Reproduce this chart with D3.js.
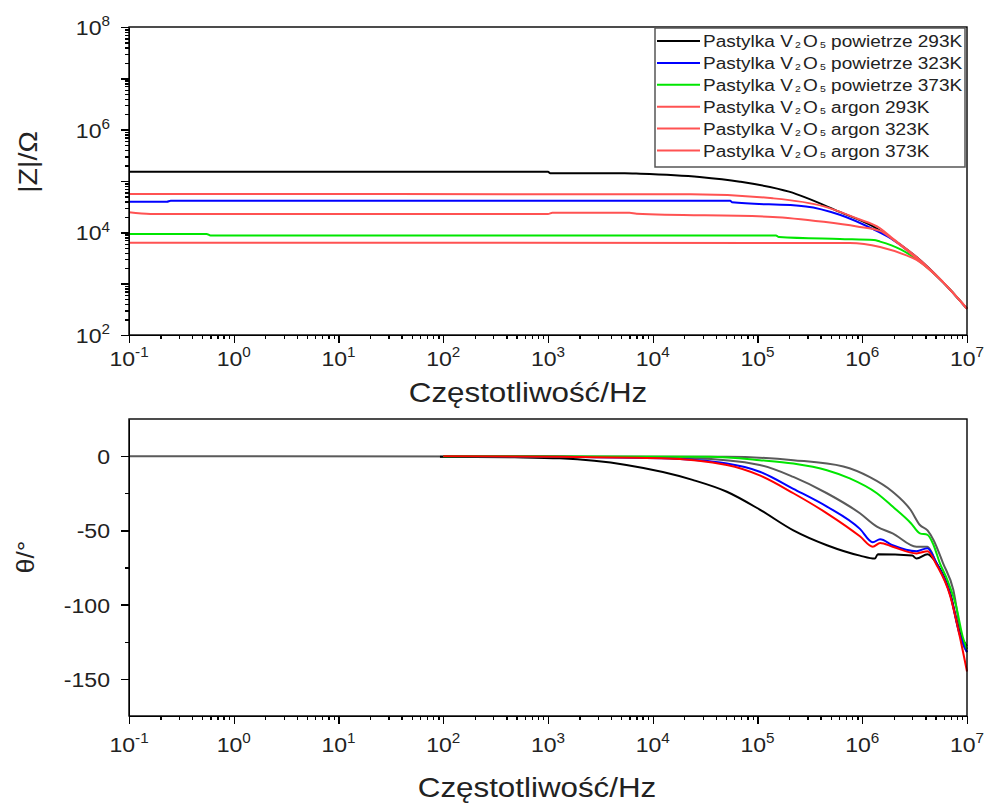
<!DOCTYPE html>
<html>
<head>
<meta charset="utf-8">
<script src="https://cdn.jsdelivr.net/npm/d3@7"></script>
<style>
  body { margin: 0; background: #fff; }
  svg { display: block; }
  .axis path, .axis line { stroke: #000; stroke-width: 1.4px; shape-rendering: crispEdges; }
</style>
</head>
<body>
<svg id="chart" width="987" height="803"></svg>
<script>
// ---- data: [frequency Hz, value] ----
var legendLabels = ['powietrze 293K', 'powietrze 323K', 'powietrze 373K', 'argon 293K', 'argon 323K', 'argon 373K'];
var legendColors = ['#000000', '#0000ff', '#00e600', '#ff5252', '#ff5252', '#ff5252'];
var thetaColors  = ['#000000', '#0000ff', '#00e600', '#ff0000', '#5a5a5a', '#5a5a5a'];

var decadeTicks = [1e-1, 1e0, 1e1, 1e2, 1e3, 1e4, 1e5, 1e6, 1e7];
var zTickLabels = [1e2, 1e4, 1e6, 1e8];
var thetaTicks = [-150, -100, -50, 0];
var thetaMinor = [-125, -75, -25];

// |Z| (ohm)
var zPow293 = [[0.1,1.51e5],[1e3,1.51e5],[1.05e3,1.42e5],[5.4e3,1.42e5],[7.6e3,1.39e5],[2.8e4,1.2e5],[6.8e4,9.7e4],[2.0e5,6.2e4],[6.1e5,2.5e4],[1.27e6,1.3e4],[2.0e6,7.1e3],[3.3e6,3.3e3],[5.9e6,1.07e3],[1e7,325]];
var zPow323 = [[0.1,3.95e4],[0.23,3.95e4],[0.25,4.13e4],[5.5e4,4.13e4],[5.7e4,3.85e4],[2.9e5,3.2e4],[6.1e5,2.2e4],[1.27e6,1.15e4],[2.0e6,7.0e3],[3.3e6,3.2e3],[5.9e6,1.07e3],[1e7,325]];
var zPow373 = [[0.1,9.3e3],[0.55,9.3e3],[0.6,8.7e3],[1.5e5,8.7e3],[1.6e5,8.1e3],[6.1e5,7.4e3],[1.29e6,7.1e3],[1.48e6,6.6e3],[2.35e6,4.6e3],[3.3e6,3.0e3],[5.9e6,1.07e3],[1e7,325]];
var zAr293 = [[0.1,5.6e4],[2.3e4,5.5e4],[1.4e5,4.6e4],[4.3e5,3.2e4],[8.9e5,1.86e4],[1.48e6,1.2e4],[2.0e6,7.3e3],[3.3e6,3.3e3],[5.9e6,1.07e3],[1e7,325]];
var zAr323 = [[0.1,2.45e4],[0.16,2.28e4],[1e3,2.28e4],[1.1e3,2.4e4],[6e3,2.4e4],[7e3,2.3e4],[1.4e5,2.0e4],[4.3e5,1.6e4],[8.9e5,1.3e4],[1.48e6,1.07e4],[2.0e6,7.0e3],[3.3e6,3.1e3],[5.9e6,1.07e3],[1e7,325]];
var zAr373 = [[0.1,6.3e3],[7.6e5,6.2e3],[1.48e6,5.2e3],[2.6e6,3.6e3],[3.3e6,2.9e3],[5.9e6,1.07e3],[1e7,325]];

// theta (deg)
var thPow293 = [[93,-0.4],[480,-0.8],[1.3e3,-1.5],[5.6e3,-6],[2.4e4,-16],[5.1e4,-24],[1.05e5,-36],[2.2e5,-50],[4.6e5,-60],[9.5e5,-67],[1.32e6,-69],[1.41e6,-66],[3.0e6,-67],[3.3e6,-69],[4.2e6,-66],[5.1e6,-72],[6.9e6,-92],[8.5e6,-119],[1e7,-128]];
var thPow323 = [[100,0],[1.3e3,-0.5],[1.2e4,-1.5],[5.1e4,-5],[1.05e5,-10.5],[2.2e5,-22],[4.6e5,-34],[9.5e5,-49],[1.26e6,-58],[1.48e6,-56],[1.95e6,-60],[3.3e6,-64],[4.2e6,-62],[5.1e6,-72],[6.9e6,-93],[8.5e6,-120],[1e7,-132]];
var thPow373 = [[100,0],[3.5e4,-0.5],[1.05e5,-2.7],[2.2e5,-5],[4.6e5,-9.5],[7.6e5,-15],[1.38e6,-25],[1.95e6,-34],[2.9e6,-45],[3.55e6,-52],[4.2e6,-53],[4.8e6,-60],[5.5e6,-72],[6.5e6,-83.5],[7.9e6,-101.5],[9.1e6,-121.6],[1e7,-130]];
var thAr293 = [[100,0],[1.3e3,-0.5],[1.2e4,-1.5],[5.1e4,-6],[1.05e5,-13],[2.2e5,-25],[4.6e5,-38.5],[9.5e5,-54],[1.26e6,-61],[1.48e6,-58.5],[1.95e6,-61],[3.3e6,-65.5],[4.2e6,-64],[5.1e6,-73],[6.9e6,-94],[8.5e6,-121],[1e7,-145]];
var thAr323 = [[100,0],[1e3,-0.3],[2.4e4,-1.5],[1.05e5,-6],[2.2e5,-14],[4.6e5,-25],[9.5e5,-38.5],[1.38e6,-47.5],[1.95e6,-52],[3.3e6,-61],[4.2e6,-61],[5.1e6,-72],[6.9e6,-93],[8.5e6,-118],[1e7,-130]];
var thAr373 = [[0.1,0],[5.1e4,-0.5],[2.2e5,-2.7],[6.6e5,-7],[1.17e6,-14],[1.95e6,-24],[2.9e6,-36.3],[3.55e6,-46.4],[4.2e6,-50],[4.8e6,-56.6],[5.9e6,-72],[7.4e6,-90],[9.1e6,-126],[1e7,-132]];

var zSeries = [zPow293, zPow323, zPow373, zAr293, zAr323, zAr373];
var thSeries = [thPow293, thPow323, thPow373, thAr293, thAr323, thAr373];

var FONT = 'Liberation Sans, Arial, sans-serif';
var SX = 1.1; // the original text is a bit wider than Arial

var svg = d3.select('#chart');
var margin = {l: 129, r: 20};
var plotW = 987 - margin.l - margin.r;

function minorTicks(lo, hi) {
    var out = [];
    for (var e = lo; e < hi; e++) {
        for (var k = 2; k <= 9; k++) out.push(k * Math.pow(10, e));
    }
    return out;
}

// text "10^n" with a raised exponent
function powText(g, x, y, val, size, anchor) {
    var t = g.append('text')
        .attr('transform', 'translate(' + x + ',' + y + ') scale(' + SX + ',1)')
        .attr('text-anchor', anchor)
        .style('font-family', FONT)
        .style('font-size', size + 'px')
        .attr('fill', '#222');
    t.append('tspan').text('10');
    t.append('tspan')
        .attr('dy', -size * 0.42)
        .style('font-size', (size * 0.66) + 'px')
        .text(Math.round(Math.log10(val)));
    return t;
}

function plainText(g, x, y, str, size, anchor, rot) {
    return g.append('text')
        .attr('transform', 'translate(' + x + ',' + y + ')' + (rot ? ' rotate(' + rot + ')' : '') + ' scale(' + SX + ',1)')
        .attr('text-anchor', anchor)
        .style('font-family', FONT)
        .style('font-size', size + 'px')
        .attr('fill', '#222')
        .text(str);
}

var x = d3.scaleLog().domain([1e-1, 1e7]).range([0, plotW]);

// ================= top plot: |Z| =================
var topH = 308;
var topG = svg.append('g').attr('transform', 'translate(' + margin.l + ',27)');
var yZ = d3.scaleLog().domain([1e2, 1e8]).range([topH, 0]);

var zLine = d3.line()
    .x(function(d){ return x(d[0]); })
    .y(function(d){ return yZ(d[1]); })
    .curve(d3.curveMonotoneX);

topG.selectAll('.zline')
    .data(zSeries)
    .enter()
    .append('path')
    .attr('class', 'zline')
    .attr('d', zLine)
    .attr('fill', 'none')
    .attr('stroke', function(d, i){ return legendColors[i]; })
    .attr('stroke-width', 2);

topG.append('rect')
    .attr('width', plotW).attr('height', topH)
    .attr('fill', 'none').attr('stroke', '#000').attr('stroke-width', 1.4);

topG.append('g').attr('class', 'axis').attr('transform', 'translate(0,' + topH + ')')
    .call(d3.axisBottom(x).tickValues(decadeTicks).tickSize(8).tickSizeOuter(0).tickFormat(''));
topG.append('g').attr('class', 'axis').attr('transform', 'translate(0,' + topH + ')')
    .call(d3.axisBottom(x).tickValues(minorTicks(-1, 7)).tickSize(4).tickSizeOuter(0).tickFormat(''));
topG.append('g').attr('class', 'axis')
    .call(d3.axisLeft(yZ).tickValues([1e2,1e3,1e4,1e5,1e6,1e7,1e8]).tickSize(8).tickSizeOuter(0).tickFormat(''));
topG.append('g').attr('class', 'axis')
    .call(d3.axisLeft(yZ).tickValues(minorTicks(2, 8)).tickSize(4).tickSizeOuter(0).tickFormat(''));

decadeTicks.forEach(function(v){ powText(topG, x(v), topH + 31, v, 21, 'middle'); });
zTickLabels.forEach(function(v){ powText(topG, -19, yZ(v) + 8, v, 21, 'end'); });

plainText(svg, 528, 402, 'Częstotliwość/Hz', 28.5, 'middle');
plainText(svg, 37, 162, '|Z|/Ω', 26, 'middle', -90);

// legend
var legG = svg.append('g').attr('transform', 'translate(655,28)');
legG.append('rect').attr('width', 310).attr('height', 139)
    .attr('fill', '#fff').attr('stroke', '#555').attr('stroke-width', 1.5);
legendLabels.forEach(function(lab, i){
    var cy = 13 + i * 21.9;
    legG.append('line')
        .attr('x1', 2).attr('x2', 45).attr('y1', cy).attr('y2', cy)
        .attr('stroke', legendColors[i]).attr('stroke-width', 2);
    var t = legG.append('text')
        .attr('transform', 'translate(48,' + (cy + 6) + ') scale(' + SX + ',1)')
        .style('font-family', FONT).style('font-size', '17.3px').attr('fill', '#222');
    t.append('tspan').text('Pastylka V');
    t.append('tspan').attr('dx', 2).attr('dy', 1).style('font-size', '9.5px').text('2');
    t.append('tspan').attr('dx', 2).attr('dy', -1).text('O');
    t.append('tspan').attr('dx', 2).attr('dy', 1).style('font-size', '9.5px').text('5');
    t.append('tspan').attr('dy', -1).text(' ' + lab);
});

// ================= bottom plot: theta =================
var botH = 297;
var botG = svg.append('g').attr('transform', 'translate(' + margin.l + ',419)');
var yT = d3.scaleLinear().domain([-175, 25]).range([botH, 0]);

var tLine = d3.line()
    .x(function(d){ return x(d[0]); })
    .y(function(d){ return yT(d[1]); })
    .curve(d3.curveMonotoneX);

var drawOrder = [5, 4, 0, 1, 2, 3];
botG.selectAll('.tline')
    .data(drawOrder)
    .enter()
    .append('path')
    .attr('class', 'tline')
    .attr('d', function(i){ return tLine(thSeries[i]); })
    .attr('fill', 'none')
    .attr('stroke', function(i){ return thetaColors[i]; })
    .attr('stroke-width', 2);

botG.append('rect')
    .attr('width', plotW).attr('height', botH)
    .attr('fill', 'none').attr('stroke', '#000').attr('stroke-width', 1.4);

botG.append('g').attr('class', 'axis').attr('transform', 'translate(0,' + botH + ')')
    .call(d3.axisBottom(x).tickValues(decadeTicks).tickSize(8).tickSizeOuter(0).tickFormat(''));
botG.append('g').attr('class', 'axis').attr('transform', 'translate(0,' + botH + ')')
    .call(d3.axisBottom(x).tickValues(minorTicks(-1, 7)).tickSize(4).tickSizeOuter(0).tickFormat(''));
botG.append('g').attr('class', 'axis')
    .call(d3.axisLeft(yT).tickValues(thetaTicks).tickSize(8).tickSizeOuter(0).tickFormat(''));
botG.append('g').attr('class', 'axis')
    .call(d3.axisLeft(yT).tickValues(thetaMinor).tickSize(4).tickSizeOuter(0).tickFormat(''));

decadeTicks.forEach(function(v){ powText(botG, x(v), botH + 36, v, 21, 'middle'); });
thetaTicks.forEach(function(v){ plainText(botG, -19, yT(v) + 8, String(v), 21, 'end'); });

plainText(svg, 537, 797, 'Częstotliwość/Hz', 28.5, 'middle');
plainText(svg, 34, 557, 'θ/°', 24, 'middle', -90);
</script>
</body>
</html>
